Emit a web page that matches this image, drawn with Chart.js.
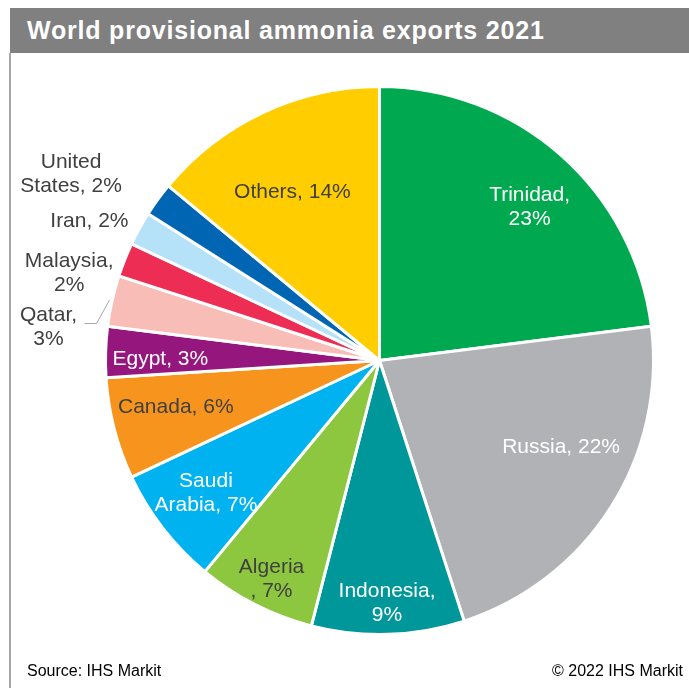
<!DOCTYPE html>
<html>
<head>
<meta charset="utf-8">
<title>World provisional ammonia exports 2021</title>
<script src="https://cdn.jsdelivr.net/npm/chart.js@4.4.1/dist/chart.umd.min.js"></script>
<style>
  body { margin: 0; background: #fff; font-family: "Liberation Sans", Arial, sans-serif; }
  #wrap { position: relative; width: 689px; height: 688px; overflow: hidden; }
  #exportsChart { position: absolute; left: 0; top: 0; }
  .title-bar {
    position: absolute; left: 10px; top: 8px; width: 679px; height: 45px;
    background: #808080; color: #fff; font-weight: bold; font-size: 25px;
    line-height: 45px; padding-left: 17px; box-sizing: border-box;
    letter-spacing: 0.8px; white-space: nowrap;
  }
  .frame-left { position: absolute; left: 9px; top: 53px; width: 2px; height: 635px; background: #a6a6a6; }
  .footer { position: absolute; top: 661px; font-size: 16px; line-height: 20px; color: #000; white-space: nowrap; }
</style>
</head>
<body>
<div id="wrap">
  <canvas id="exportsChart" width="689" height="688"></canvas>
  <div class="title-bar">World provisional ammonia exports 2021</div>
  <div class="frame-left"></div>
  <div class="footer" style="left: 27px;">Source: IHS Markit</div>
  <div class="footer" style="right: 6px;">© 2022 IHS Markit</div>
</div>
<script>
// Export shares by country (%), clockwise from 12 o'clock
const countries = ['Trinidad', 'Russia', 'Indonesia', 'Algeria', 'Saudi Arabia', 'Canada',
                   'Egypt', 'Qatar', 'Malaysia', 'Iran', 'United States', 'Others'];
const shares = [23, 22, 9, 7, 7, 6, 3, 3, 2, 2, 2, 14];

const sliceColors = ['#00a94f', '#b1b2b5', '#00979a', '#8dc63f', '#00b2ef', '#f7941d',
                     '#95177e', '#f8bdb6', '#ee2d55', '#b5e2f8', '#0066b3', '#ffcd00'];

// label placement: distance as a fraction of the radius, and a nudge off the mid-angle (degrees)
const labelRadius = [0.79, 0.73, 0.876, 0.88, 0.79, 0.76, 0.80, 1.215, 1.18, 1.18, 1.32, 0.70];
const labelNudge = [2.5, -7.6, 0, -0.4, 1.1, 2.4, -0.8, -6.4, -5.3, -2.6, -4.5, -1.8];
const labelColor = ['#fff', '#fff', '#fff', '#404040', '#fff', '#404040',
                    '#fff', '#404040', '#404040', '#404040', '#404040', '#404040'];
const labelWrap = ['comma', 'one', 'comma', 'beforeComma', 'word', 'one',
                   'one', 'comma', 'comma', 'one', 'word', 'one'];
const leaderFor = ['Qatar'];

function labelLines(i) {
  const name = countries[i];
  const pct = shares[i] + '%';
  switch (labelWrap[i]) {
    case 'comma': return [name + ',', pct];
    case 'beforeComma': return [name, ', ' + pct];
    case 'word': {
      const k = name.indexOf(' ');
      return [name.slice(0, k), name.slice(k + 1) + ', ' + pct];
    }
    default: return [name + ', ' + pct];
  }
}

const sliceLabels = {
  id: 'sliceLabels',
  afterDatasetsDraw(chart) {
    const ctx = chart.ctx;
    const arcs = chart.getDatasetMeta(0).data;
    ctx.save();
    ctx.font = '21px "Liberation Sans", Arial, sans-serif';
    ctx.textAlign = 'center';
    ctx.textBaseline = 'middle';
    arcs.forEach((arc, i) => {
      const p = arc.getProps(['x', 'y', 'startAngle', 'endAngle', 'outerRadius'], true);
      const mid = (p.startAngle + p.endAngle) / 2;
      const a = mid + labelNudge[i] * Math.PI / 180;
      const r = p.outerRadius * labelRadius[i];
      const lx = p.x + Math.cos(a) * r;
      const ly = p.y + Math.sin(a) * r + 3;

      if (leaderFor.includes(countries[i])) {
        const er = p.outerRadius * 1.01;
        ctx.strokeStyle = '#a6a6a6';
        ctx.lineWidth = 1;
        ctx.beginPath();
        ctx.moveTo(p.x + Math.cos(mid) * er, p.y + Math.sin(mid) * er);
        ctx.lineTo(lx + 48, ly - 4);
        ctx.lineTo(lx + 36, ly - 4);
        ctx.stroke();
      }

      const lines = labelLines(i);
      const lh = 24;
      ctx.fillStyle = labelColor[i];
      lines.forEach((t, k) => {
        ctx.fillText(t, lx, ly + (k - (lines.length - 1) / 2) * lh);
      });
    });
    ctx.restore();
  }
};

new Chart(document.getElementById('exportsChart'), {
  type: 'pie',
  data: {
    labels: countries,
    datasets: [{
      data: shares,
      backgroundColor: sliceColors,
      borderColor: '#fff',
      borderWidth: 3
    }]
  },
  options: {
    responsive: false,
    animation: false,
    layout: { padding: { left: 104, right: 34, top: 85, bottom: 52 } },
    plugins: {
      legend: { display: false },
      tooltip: { enabled: false }
    }
  },
  plugins: [sliceLabels]
});
</script>
</body>
</html>
